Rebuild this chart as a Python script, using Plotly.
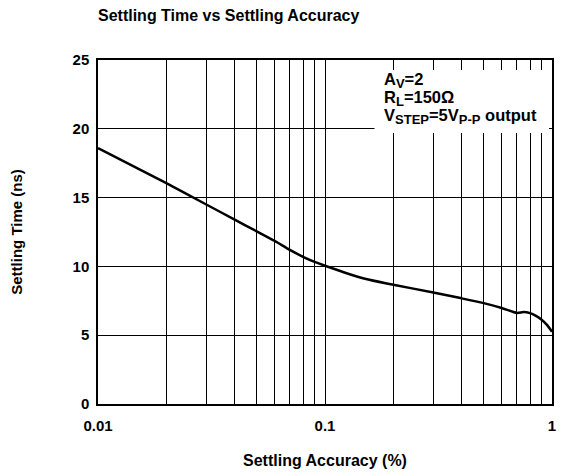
import plotly.graph_objects as go

# Data
accuracy_pct = [0.01, 0.02, 0.03, 0.04, 0.05, 0.06, 0.07, 0.08, 0.09, 0.1,
                0.15, 0.2, 0.3, 0.4, 0.5, 0.6, 0.7, 0.75, 0.8, 0.85, 0.9, 0.95, 1.0]
settling_ns = [18.6, 16.05, 14.5, 13.4, 12.55, 11.85, 11.2, 10.7, 10.33, 10.05,
               9.1, 8.67, 8.1, 7.68, 7.33, 6.98, 6.62, 6.68, 6.6, 6.4, 6.12, 5.75, 5.25]

x_major_ticks = [0.01, 0.1, 1]
x_major_labels = ["0.01", "0.1", "1"]
x_minor_ticks = [m * d for d in (0.01, 0.1) for m in range(2, 10)]
y_ticks = [0, 5, 10, 15, 20, 25]

title_text = "Settling Time vs Settling Accuracy"
x_title = "Settling Accuracy (%)"
y_title = "Settling Time (ns)"
SUB = '<sub><span style="font-size:13px">%s</span></sub>'
note_lines = [
    "A" + SUB % "V" + "=2",
    "R" + SUB % "L" + "=150Ω",
    "V" + SUB % "STEP" + "=5V" + SUB % "P-P" + " output",
]

FONT = "Arial, Liberation Sans, Helvetica, sans-serif"

fig = go.Figure()
fig.add_trace(go.Scatter(
    x=accuracy_pct, y=settling_ns, mode="lines",
    line=dict(color="black", width=2.5, shape="spline", smoothing=0.7),
    showlegend=False, hoverinfo="skip",
))

fig.update_layout(
    width=562, height=473,
    margin=dict(l=98, r=6, t=60, b=68),
    paper_bgcolor="white", plot_bgcolor="white",
    font=dict(family=FONT, color="black", size=15),
    title=dict(text="<b>%s</b>" % title_text, x=98/562, xanchor="left",
               y=1 - 15/473, yanchor="middle", font=dict(size=16)),
    xaxis=dict(
        type="log", range=[-2, 0],
        tickvals=x_major_ticks, ticktext=["<b>%s</b>" % t for t in x_major_labels],
        showgrid=True, gridcolor="black", gridwidth=1,
        minor=dict(tickvals=x_minor_ticks, showgrid=True, gridcolor="black", gridwidth=1, ticks=""),
        showline=True, linecolor="black", linewidth=1.5, mirror=True,
        ticks="", ticklabelstandoff=7, tickfont=dict(size=15),
        zeroline=False,
        title=dict(text="<b>%s</b>" % x_title, standoff=22, font=dict(size=16)),
    ),
    yaxis=dict(
        range=[0, 25], tickvals=y_ticks, ticktext=["<b>%d</b>" % v for v in y_ticks],
        showgrid=True, gridcolor="black", gridwidth=1,
        showline=True, linecolor="black", linewidth=1.5, mirror=True,
        ticks="", ticklabelstandoff=4, tickfont=dict(size=15),
        zeroline=False,
        title=dict(text="<b>%s</b>" % y_title, standoff=46, font=dict(size=15)),
    ),
)

fig.add_shape(type="rect", xref="paper", yref="paper",
              x0=0.609, x1=0.9934, y0=0.788, y1=0.971,
              fillcolor="white", line=dict(width=0), layer="above")
line_centers_px = [81, 99, 117]
for txt, yc in zip(note_lines, line_centers_px):
    fig.add_annotation(xref="paper", yref="paper", x=(385 - 98) / 458,
                       y=(405 - yc) / 345, xanchor="left", yanchor="middle",
                       align="left", showarrow=False,
                       text="<b>%s</b>" % txt, font=dict(size=16.5))

fig.write_html("out.html", config={"displayModeBar": False},
               post_script="document.body.style.margin='0px';")
